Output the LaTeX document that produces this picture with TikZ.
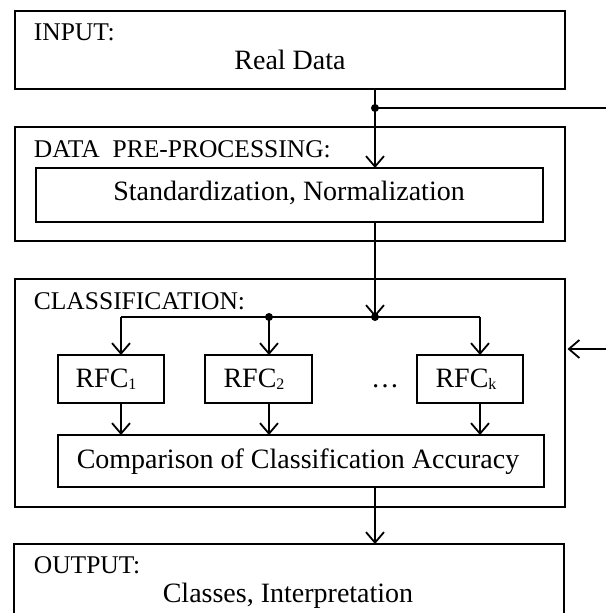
\documentclass[tikz,border=0pt]{standalone}
\usepackage{fontspec}
\setmainfont{Liberation Serif}
\usetikzlibrary{arrows.meta}
\newcommand\lowsub[1]{\raisebox{-2.5pt}{\fontsize{16}{16}\selectfont #1}}
\begin{document}
\begin{tikzpicture}[x=1pt,y=-1pt,line width=1.8pt,
  frame/.style={draw, inner sep=0pt, outer sep=0pt},
  title/.style={anchor=base west, inner sep=0pt, font=\fontsize{25.5}{30}\selectfont},
  body/.style={anchor=base, inner sep=0pt, font=\fontsize{28}{32}\selectfont},
  arr/.style={-{Straight Barb[length=10.5pt,width=18pt,line width=1.8pt]}},
  dot/.style={fill, circle, inner sep=0pt, minimum size=8pt}]
\clip (0,0) rectangle (606,613);

% main frames
\node[frame, minimum width=550pt, minimum height=78.6pt] (input) at (290,50) {};
\node[frame, minimum width=550pt, minimum height=114pt] (prep) at (290,184) {};
\node[frame, minimum width=507pt, minimum height=54pt] (stdz) at (289.5,195) {};
\node[frame, minimum width=550pt, minimum height=228pt] (cls) at (290,393) {};
\node[frame, minimum width=106pt, minimum height=48pt] (rfc1) at (111,379) {};
\node[frame, minimum width=107pt, minimum height=48pt] (rfc2) at (258.5,379) {};
\node[frame, minimum width=106pt, minimum height=48pt] (rfck) at (470,379) {};
\node[frame, minimum width=486pt, minimum height=52pt] (cmp) at (301,461) {};
\node[frame, minimum width=550pt, minimum height=100pt] (output) at (289,594) {};

% texts
\node[title] (tin) at (33,40) {INPUT:};
\node[body] (tin2) at (290,69) {Real Data};
\node[title] (tprep) at (33,157) {DATA\ \ PRE-PROCESSING:};
\node[body] (tstdz) at (289,200) {Standardization, Normalization};
\node[title] (tcls) at (33,309) {CLASSIFICATION:};
\node[body] (trfc1) at (106,387) {RFC\lowsub{1}};
\node[body] (trfc2) at (254,387) {RFC\lowsub{2}};
\node[body] (tdots) at (385,387) {\dots};
\node[body] (trfck) at (466,387) {RFC\lowsub{k}};
\node[body] (tcmp) at (298,468) {Comparison of Classification Accuracy};
\node[title] (tout) at (33,573) {OUTPUT:};
\node[body] (tout2) at (288,602) {Classes, Interpretation};

% junctions and free ends
\coordinate (j0) at (375,108);
\coordinate (j1) at (375,317);
\coordinate (b1) at (121,317);
\coordinate (b2) at (269,317);
\coordinate (bk) at (480,317);
\coordinate (fbout) at (606,108);
\coordinate (fbin) at (606,349);

% connectors
\draw (input.south -| j0) -- (j0);
\draw (j0) -- (fbout);
\draw[arr] (j0) -- (stdz.north -| j0);
\draw[arr] (stdz.south -| j1) -- (j1);
\draw (b1) -- (bk);
\draw[arr] (b1) -- (rfc1.north -| b1);
\draw[arr] (b2) -- (rfc2.north -| b2);
\draw[arr] (bk) -- (rfck.north -| bk);
\draw[arr] (rfc1.south -| b1) -- (cmp.north -| b1);
\draw[arr] (rfc2.south -| b2) -- (cmp.north -| b2);
\draw[arr] (rfck.south -| bk) -- (cmp.north -| bk);
\draw[arr] (cmp.south -| j1) -- (output.north -| j1);
\draw[arr, shorten >=2.5pt] (fbin) -- (cls.east |- fbin);

\node[dot] (d0) at (j0) {};
\node[dot] (d1) at (j1) {};
\node[dot] (d2) at (b2) {};
\end{tikzpicture}
\end{document}
